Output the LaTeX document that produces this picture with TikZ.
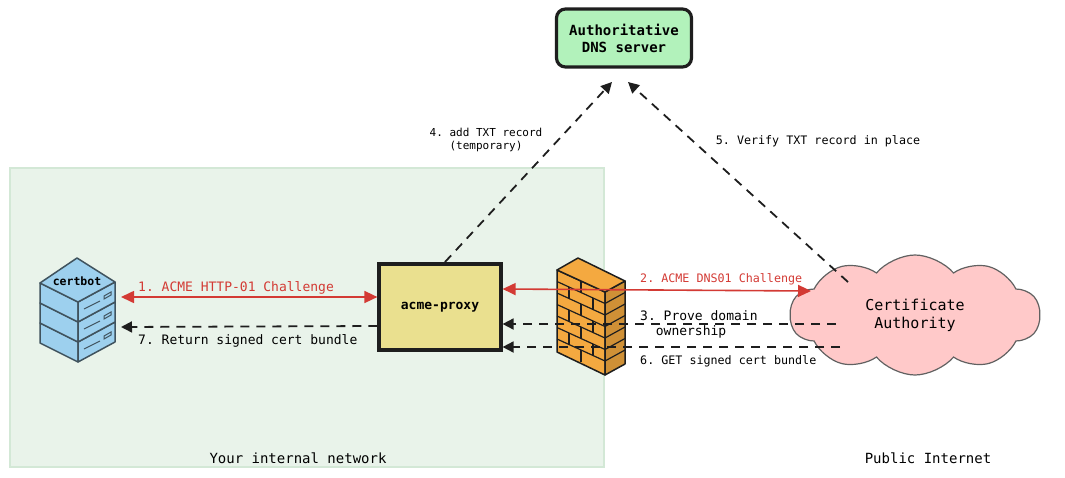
\documentclass[tikz,border=0pt]{standalone}
\usepackage{fontspec}
\setmonofont{DejaVu Sans Mono}
\usetikzlibrary{arrows.meta}
\usetikzlibrary{positioning}
\usetikzlibrary{shapes.symbols}
\definecolor{netfill}{HTML}{E9F3EA}
\definecolor{netline}{HTML}{D3E8D6}
\definecolor{dnsfill}{HTML}{B2F2BB}
\definecolor{proxyfill}{HTML}{EAE08F}
\definecolor{srvfill}{HTML}{9DD0EE}
\definecolor{srvline}{HTML}{40535E}
\definecolor{wallfill}{HTML}{F4A940}
\definecolor{cafill}{HTML}{FFC9C9}
\definecolor{chal}{HTML}{D33A34}
\definecolor{ink}{HTML}{1E1E1E}
\begin{document}
\begin{tikzpicture}[x=1pt,y=-1pt,font=\ttfamily\fontsize{13}{15}\selectfont]

		\tikzset{box/.style = {draw=ink,line width=3.2pt,align=center}}
		\tikzset{edge/.style = {-{Triangle[length=11pt,width=11pt]},ink,line width=1.8pt,dash pattern=on 9pt off 7pt}}
		\tikzset{redge/.style = {{Triangle[length=13pt,width=12pt]}-{Triangle[length=13pt,width=12pt]},chal,line width=1.6pt}}
		\tikzset{lbl/.style = {inner sep=1pt,align=left}}
		\tikzset{small/.style = {font=\ttfamily\fontsize{11.7}{13}\selectfont}}
		\useasboundingbox (0,0) rectangle (1065,477);
		% networks
		\draw[netline,fill=netfill,line width=2pt] (10,168) rectangle (604,467);
		\node[font=\ttfamily\fontsize{14}{16}\selectfont] (inlbl) at (298,458) {Your internal network};
		\node[font=\ttfamily\fontsize{14}{16}\selectfont] (publbl) at (928,458) {Public Internet};
		
		% vertices
		\node[box,rounded corners=9pt,fill=dnsfill,minimum width=135pt,minimum height=58pt,font=\ttfamily\bfseries\fontsize{14}{17}\selectfont] (dns) at (624,38) {Authoritative\\DNS server};
		\node[box,fill=proxyfill,minimum width=122pt,minimum height=86pt,font=\ttfamily\bfseries\fontsize{13}{15}\selectfont] (proxy) at (440,307) {acme-proxy};
		\node[cloud,cloud puffs=10,cloud puff arc=100,aspect=2.1,draw=ink!70,fill=cafill,line width=1.2pt,minimum width=250pt,minimum height=120pt,align=center,font=\ttfamily\fontsize{15}{18}\selectfont] (ca) at (915,315) {Certificate\\Authority};
		
		% certbot
		\foreach \dy in {40,20,0} {
			\draw[srvline,fill=srvfill,line width=1.5pt,line join=round] (40,283+\dy) -- (78,302+\dy) -- (78,322+\dy) -- (40,303+\dy) -- cycle;
			\draw[srvline,fill=srvfill,line width=1.5pt,line join=round] (78,302+\dy) -- (115,282+\dy) -- (115,302+\dy) -- (78,322+\dy) -- cycle;
			\draw[srvline,line width=1pt] (84,309+\dy) -- (100,301+\dy);
			\draw[srvline,line width=1pt] (104,296+\dy) -- (111,292+\dy) -- (111,295+\dy) -- (104,299+\dy) -- cycle;
		}
		\draw[srvline,fill=srvfill,line width=1.5pt,line join=round] (40,283) -- (77,258) -- (115,282) -- (78,302) -- cycle;
		\node[font=\ttfamily\bfseries\fontsize{11.5}{13}\selectfont] (certbot) at (77,281) {certbot};
		\coordinate (cb) at (121,297);
		\coordinate (cbr) at (121,327);
		
		% firewall
		\draw[ink,fill=wallfill,line width=1.5pt,line join=round] (557,270) -- (605,292) -- (605,375) -- (557,352) -- cycle;
		\draw[ink,fill=wallfill!85!black,line width=1.5pt,line join=round] (605,292) -- (625,281) -- (625,364) -- (605,375) -- cycle;
		\draw[ink,fill=wallfill,line width=1.5pt,line join=round] (557,270) -- (578,258) -- (625,281) -- (605,292) -- cycle;
		\foreach \k in {1,...,6} {
			\draw[ink,line width=1.2pt] (557,270+11.5*\k) -- (605,292+11.5*\k);
			\draw[ink,line width=1.2pt] (605,292+11.5*\k) -- (625,281+11.5*\k);
		}
		\foreach \k in {0,2,4,6} {
			\draw[ink,line width=1.2pt] (581,281+11.5*\k) -- (581,292.5+11.5*\k);
		}
		\foreach \k in {1,3,5} {
			\draw[ink,line width=1.2pt] (569,275.5+11.5*\k) -- (569,287+11.5*\k);
			\draw[ink,line width=1.2pt] (593,286.5+11.5*\k) -- (593,298+11.5*\k);
		}
		
		%edges
		\draw[redge] (cb) -- (proxy.west |- cb);
		\node[lbl,text=chal,anchor=south west] (l1) at (137,295) {1. ACME HTTP-01 Challenge};
		\draw[edge] (proxy.west |- 0,326) -- (cbr);
		\node[lbl,anchor=north west] (l7) at (137,333) {7. Return signed cert bundle};
		
		\draw[redge] (proxy.east |- 0,289) -- (811,291);
		\node[lbl,small,text=chal,anchor=south west] (l2) at (639,286) {2. ACME DNS01 Challenge};
		\draw[edge] (836,324) -- (proxy.east |- 0,324);
		\node[lbl,anchor=north west] (l3) at (639,309) {3. Prove domain\\\ \ ownership};
		\draw[edge] (840,347) -- (proxy.east |- 0,347);
		\node[lbl,small,anchor=north west] (l6) at (639,354) {6. GET signed cert bundle};
		
		\draw[edge] (445,262) -- (612,82);
		\node[lbl,align=center,font=\ttfamily\fontsize{11}{13}\selectfont] (l4) at (486,140) {4. add TXT record\\(temporary)};
		\draw[edge] (848,282) -- (628,82);
		\node[lbl,small] (l5) at (818,141) {5. Verify TXT record in place};
		
\end{tikzpicture}
\end{document}
